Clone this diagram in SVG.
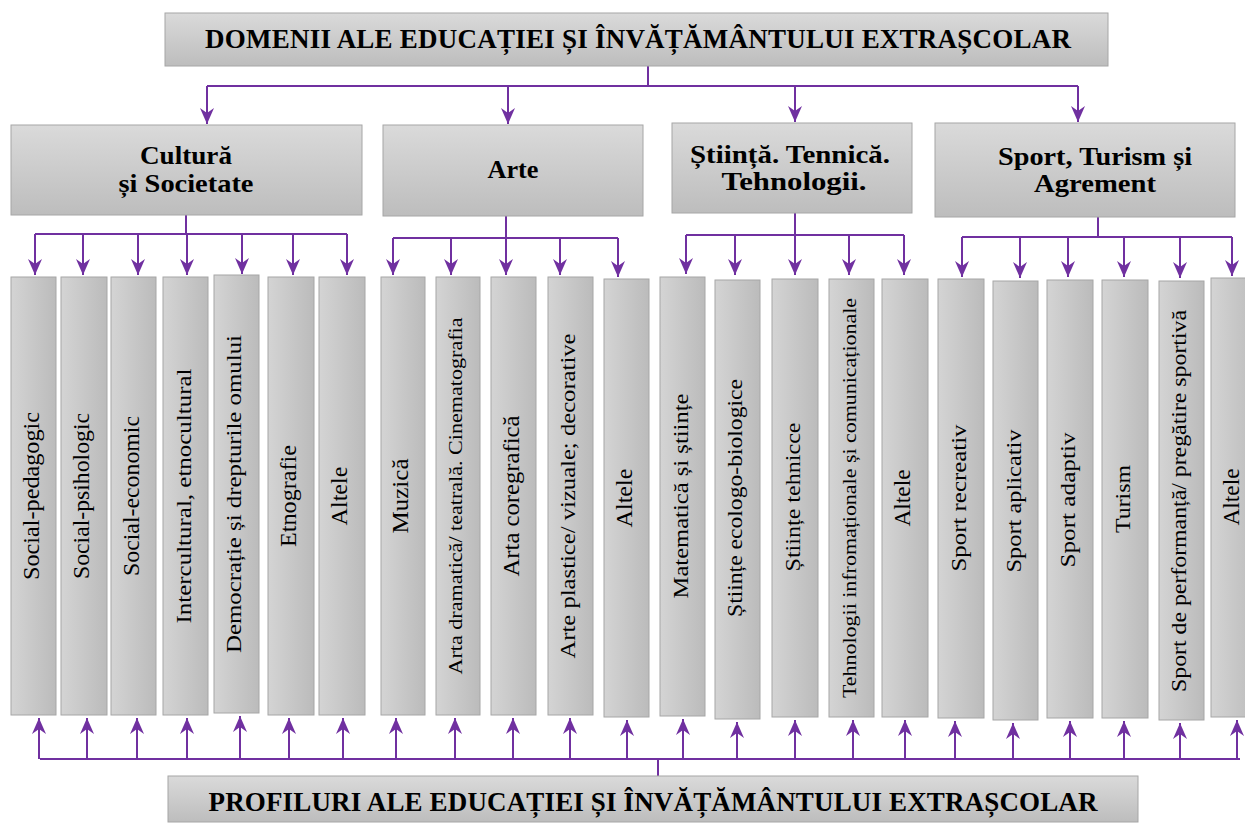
<svg xmlns="http://www.w3.org/2000/svg" width="1245" height="825" viewBox="0 0 1245 825">
<style>
.hbox{fill:url(#gv);stroke:#a6a6a6;stroke-width:1}
.col{fill:url(#gh);stroke:#a6a6a6;stroke-width:1}
.ttl{font-family:"Liberation Serif",serif;font-weight:bold;font-size:27px;fill:#000;text-anchor:middle}
.cat{font-family:"Liberation Serif",serif;font-weight:bold;font-size:26px;fill:#000;text-anchor:middle}
.lbl{font-family:"Liberation Serif",serif;fill:#000;text-anchor:middle}
.ln{fill:none;stroke:#7030a0;stroke-width:2}
.ar{fill:none;stroke:#7030a0;stroke-width:2;marker-end:url(#ah)}
</style>
<defs>
<linearGradient id="gv" x1="0" y1="0" x2="0" y2="1"><stop offset="0" stop-color="#dadada"/><stop offset="1" stop-color="#bdbdbd"/></linearGradient>
<linearGradient id="gh" x1="0" y1="0" x2="1" y2="0"><stop offset="0" stop-color="#d4d4d4"/><stop offset="1" stop-color="#bbbbbb"/></linearGradient>
<marker id="ah" viewBox="0 0 16 14" refX="16" refY="7" markerWidth="16" markerHeight="14" markerUnits="userSpaceOnUse" orient="auto"><path d="M0,0 L16,7 L0,14 L5,7 Z" fill="#7030a0"/></marker>
</defs>
<rect width="1245" height="825" fill="#fff"/>

<g id="connectors">
<path class="ln" d="M648,66 V86 M207,86 H1078"/>
<path class="ar" d="M207,86 V124"/><path class="ar" d="M508,86 V124"/><path class="ar" d="M795,86 V122"/><path class="ar" d="M1078,86 V122"/>
<path class="ln" d="M186,215 V234 M35,234 H347"/>
<path class="ar" d="M35,234 V275"/><path class="ar" d="M83,234 V275"/><path class="ar" d="M138,234 V275"/><path class="ar" d="M187,234 V275"/><path class="ar" d="M242,234 V274"/><path class="ar" d="M293,234 V275"/><path class="ar" d="M347,234 V275"/>
<path class="ln" d="M506,216 V238 M393,238 H618"/>
<path class="ar" d="M393,238 V275"/><path class="ar" d="M451,238 V275"/><path class="ar" d="M506,238 V275"/><path class="ar" d="M560,238 V275"/><path class="ar" d="M618,238 V277"/>
<path class="ln" d="M795,213 V235 M686,235 H904"/>
<path class="ar" d="M686,235 V274"/><path class="ar" d="M735,235 V275"/><path class="ar" d="M795,235 V275"/><path class="ar" d="M849,235 V275"/><path class="ar" d="M904,235 V275"/>
<path class="ln" d="M1098,217 V237 M962,237 H1232"/>
<path class="ar" d="M962,237 V277"/><path class="ar" d="M1020,237 V278"/><path class="ar" d="M1068,237 V277"/><path class="ar" d="M1124,237 V277"/><path class="ar" d="M1180,237 V278"/><path class="ar" d="M1232,237 V276"/>
<path class="ln" d="M40,759 H1240 M658,759 V776"/>
<path class="ar" d="M39,759 V718"/><path class="ar" d="M87,759 V718"/><path class="ar" d="M137,759 V718"/><path class="ar" d="M187,759 V718"/><path class="ar" d="M240,759 V716"/><path class="ar" d="M289,759 V718"/><path class="ar" d="M343,759 V718"/>
<path class="ar" d="M396,759 V718"/><path class="ar" d="M455,759 V718"/><path class="ar" d="M513,759 V718"/><path class="ar" d="M570,759 V718"/><path class="ar" d="M627,759 V720"/>
<path class="ar" d="M683,759 V719"/><path class="ar" d="M737,759 V722"/><path class="ar" d="M795,759 V720"/><path class="ar" d="M853,759 V720"/><path class="ar" d="M905,759 V720"/>
<path class="ar" d="M955,759 V721"/><path class="ar" d="M1013,759 V723"/><path class="ar" d="M1070,759 V721"/><path class="ar" d="M1124,759 V721"/><path class="ar" d="M1180,759 V723"/><path class="ar" d="M1237,759 V720"/>
</g>

<g id="top"><rect class="hbox" x="165" y="13" width="943" height="53"/><text class="ttl" x="638" y="48" textLength="866">DOMENII ALE EDUCAȚIEI ȘI ÎNVĂȚĂMÂNTULUI EXTRAȘCOLAR</text></g>
<g id="bottom"><rect class="hbox" x="168" y="776" width="970" height="46"/><text class="ttl" x="653" y="811" textLength="889">PROFILURI ALE EDUCAȚIEI ȘI ÎNVĂȚĂMÂNTULUI EXTRAȘCOLAR</text></g>

<g id="cat-cultura"><rect class="hbox" x="11" y="125" width="351" height="90"/><text class="cat" x="186" y="164" textLength="92" lengthAdjust="spacingAndGlyphs">Cultură</text><text class="cat" x="186" y="192" textLength="135" lengthAdjust="spacingAndGlyphs">și Societate</text></g>
<g id="cat-arte"><rect class="hbox" x="383" y="125" width="260" height="91"/><text class="cat" x="513" y="178" textLength="51" lengthAdjust="spacingAndGlyphs">Arte</text></g>
<g id="cat-stiinta"><rect class="hbox" x="672" y="123" width="240" height="90"/><text class="cat" x="790" y="163" textLength="200" lengthAdjust="spacingAndGlyphs">Știință. Tennică.</text><text class="cat" x="794" y="190" textLength="145" lengthAdjust="spacingAndGlyphs">Tehnologii.</text></g>
<g id="cat-sport"><rect class="hbox" x="935" y="123" width="300" height="94"/><text class="cat" x="1095" y="165" textLength="194" lengthAdjust="spacingAndGlyphs">Sport, Turism și</text><text class="cat" x="1095" y="192" textLength="122" lengthAdjust="spacingAndGlyphs">Agrement</text></g>

<g id="c1"><rect class="col" x="11" y="277" width="45" height="438"/><text class="lbl" font-size="23" textLength="168" lengthAdjust="spacingAndGlyphs" transform="translate(38.5,496) rotate(-90)">Social-pedagogic</text></g>
<g id="c2"><rect class="col" x="61" y="277" width="46" height="438"/><text class="lbl" font-size="23" textLength="166" lengthAdjust="spacingAndGlyphs" transform="translate(89,496) rotate(-90)">Social-psihologic</text></g>
<g id="c3"><rect class="col" x="111" y="277" width="45" height="438"/><text class="lbl" font-size="23" textLength="160" lengthAdjust="spacingAndGlyphs" transform="translate(138.5,496) rotate(-90)">Social-economic</text></g>
<g id="c4"><rect class="col" x="163" y="277" width="45" height="438"/><text class="lbl" font-size="22" textLength="255" lengthAdjust="spacingAndGlyphs" transform="translate(190.5,496) rotate(-90)">Intercultural, etnocultural</text></g>
<g id="c5"><rect class="col" x="214" y="275" width="45" height="438"/><text class="lbl" font-size="21" textLength="318" lengthAdjust="spacingAndGlyphs" transform="translate(241,494) rotate(-90)">Democrație și drepturile omului</text></g>
<g id="c6"><rect class="col" x="268" y="277" width="46" height="438"/><text class="lbl" font-size="23" textLength="102" lengthAdjust="spacingAndGlyphs" transform="translate(296,496) rotate(-90)">Etnografie</text></g>
<g id="c7"><rect class="col" x="319" y="277" width="46" height="438"/><text class="lbl" font-size="23" textLength="59" lengthAdjust="spacingAndGlyphs" transform="translate(347,496) rotate(-90)">Altele</text></g>
<g id="c8"><rect class="col" x="381" y="277" width="44" height="438"/><text class="lbl" font-size="23" textLength="75" lengthAdjust="spacingAndGlyphs" transform="translate(408,496) rotate(-90)">Muzică</text></g>
<g id="c9"><rect class="col" x="436" y="277" width="44" height="438"/><text class="lbl" font-size="18" textLength="357" lengthAdjust="spacingAndGlyphs" transform="translate(462,496) rotate(-90)">Arta dramatică/ teatrală. Cinematografia</text></g>
<g id="c10"><rect class="col" x="491" y="277" width="45" height="438"/><text class="lbl" font-size="23" textLength="161" lengthAdjust="spacingAndGlyphs" transform="translate(518.5,496) rotate(-90)">Arta coregrafică</text></g>
<g id="c11"><rect class="col" x="548" y="277" width="45" height="438"/><text class="lbl" font-size="21" textLength="325" lengthAdjust="spacingAndGlyphs" transform="translate(575,496) rotate(-90)">Arte plastice/ vizuale; decorative</text></g>
<g id="c12"><rect class="col" x="604" y="279" width="45" height="438"/><text class="lbl" font-size="23" textLength="59" lengthAdjust="spacingAndGlyphs" transform="translate(631.5,498) rotate(-90)">Altele</text></g>
<g id="c13"><rect class="col" x="660" y="277" width="45" height="439"/><text class="lbl" font-size="22" textLength="205" lengthAdjust="spacingAndGlyphs" transform="translate(687.5,496) rotate(-90)">Matematică și științe</text></g>
<g id="c14"><rect class="col" x="715" y="280" width="45" height="439"/><text class="lbl" font-size="21" textLength="238" lengthAdjust="spacingAndGlyphs" transform="translate(742,498) rotate(-90)">Științe ecologo-biologice</text></g>
<g id="c15"><rect class="col" x="772" y="279" width="46" height="438"/><text class="lbl" font-size="21" textLength="149" lengthAdjust="spacingAndGlyphs" transform="translate(800,497) rotate(-90)">Științe tehnicce</text></g>
<g id="c16"><rect class="col" x="829" y="279" width="45" height="438"/><text class="lbl" font-size="18" textLength="400" lengthAdjust="spacingAndGlyphs" transform="translate(855.5,498) rotate(-90)">Tehnologii infromaționale și comunicaționale</text></g>
<g id="c17"><rect class="col" x="882" y="279" width="46" height="438"/><text class="lbl" font-size="23" textLength="57" lengthAdjust="spacingAndGlyphs" transform="translate(910,498) rotate(-90)">Altele</text></g>
<g id="c18"><rect class="col" x="938" y="279" width="46" height="439"/><text class="lbl" font-size="22" textLength="147" lengthAdjust="spacingAndGlyphs" transform="translate(966,498) rotate(-90)">Sport recreativ</text></g>
<g id="c19"><rect class="col" x="993" y="281" width="45" height="439"/><text class="lbl" font-size="22" textLength="143" lengthAdjust="spacingAndGlyphs" transform="translate(1020.5,501) rotate(-90)">Sport aplicativ</text></g>
<g id="c20"><rect class="col" x="1047" y="280" width="46" height="438"/><text class="lbl" font-size="22" textLength="135" lengthAdjust="spacingAndGlyphs" transform="translate(1075,500) rotate(-90)">Sport adaptiv</text></g>
<g id="c21"><rect class="col" x="1102" y="280" width="46" height="438"/><text class="lbl" font-size="22" textLength="68" lengthAdjust="spacingAndGlyphs" transform="translate(1130,499) rotate(-90)">Turism</text></g>
<g id="c22"><rect class="col" x="1159" y="281" width="45" height="439"/><text class="lbl" font-size="20" textLength="382" lengthAdjust="spacingAndGlyphs" transform="translate(1186,501) rotate(-90)">Sport de performanță/ pregătire sportivă</text></g>
<g id="c23"><rect class="col" x="1211" y="278" width="46" height="439"/><text class="lbl" font-size="23" textLength="57" lengthAdjust="spacingAndGlyphs" transform="translate(1239,497) rotate(-90)">Altele</text></g>
</svg>
